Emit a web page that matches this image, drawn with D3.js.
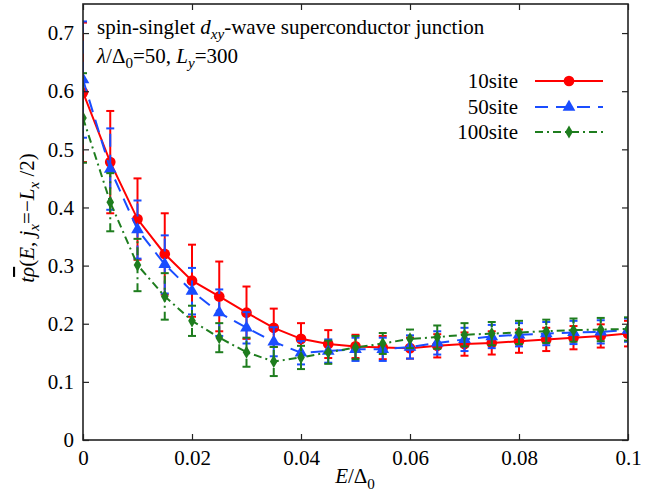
<!DOCTYPE html>
<html><head><meta charset="utf-8">
<script src="https://cdn.jsdelivr.net/npm/d3@7"></script>
<style>body{margin:0;background:#fff}
svg text, svg tspan { font-family: "Liberation Serif", "Times New Roman", Tinos, serif !important; }</style>
</head><body><svg id="c" width="645" height="502"></svg>
<script>
const energies = [0,0.005,0.01,0.015,0.02,0.025,0.03,0.035,0.04,0.045,0.05,0.055,0.06,0.065,0.07,0.075,0.08,0.085,0.09,0.095,0.1];
const site10 = [0.598,0.478,0.380,0.320,0.274,0.247,0.219,0.193,0.174,0.165,0.161,0.159,0.158,0.162,0.165,0.167,0.170,0.173,0.176,0.179,0.183];
const site10Err = [0.12,0.088,0.07,0.07,0.062,0.06,0.045,0.033,0.027,0.024,0.02,0.02,0.018,0.02,0.02,0.02,0.02,0.02,0.02,0.02,0.022];
const site50 = [0.620,0.466,0.362,0.302,0.256,0.219,0.193,0.169,0.150,0.153,0.156,0.156,0.160,0.167,0.173,0.178,0.181,0.183,0.185,0.186,0.189];
const site50Err = [0.1,0.07,0.05,0.05,0.04,0.04,0.027,0.025,0.02,0.02,0.02,0.02,0.02,0.02,0.02,0.02,0.02,0.02,0.02,0.02,0.02];
const site100 = [0.554,0.409,0.301,0.247,0.205,0.176,0.151,0.135,0.142,0.151,0.159,0.166,0.174,0.177,0.181,0.183,0.185,0.187,0.189,0.190,0.191];
const site100Err = [0.077,0.05,0.045,0.04,0.026,0.025,0.025,0.025,0.02,0.02,0.02,0.018,0.016,0.02,0.02,0.02,0.02,0.02,0.02,0.02,0.02];
const seriesNames = ["10site","50site","100site"];
const xTicks = [0,0.02,0.04,0.06,0.08,0.1];
const xTickLabels = ["0","0.02","0.04","0.06","0.08","0.1"];
const yTicks = [0,0.1,0.2,0.3,0.4,0.5,0.6,0.7];
const yTickLabels = ["0","0.1","0.2","0.3","0.4","0.5","0.6","0.7"];

const FONT = `"Liberation Serif", "Times New Roman", Tinos, serif`;
const FS = 21;
const L = 83, R = 628, T = 4, B = 440;
const svg = d3.select("#c").attr("font-family","Times New Roman");
const x = d3.scaleLinear().domain([0,0.1]).range([L,R]);
const y = d3.scaleLinear().domain([0,0.75]).range([B,T]);

const series = [
  {name:seriesNames[0], v:site10, e:site10Err, color:"#ff0000", dash:null, sym:d3.symbolCircle, size:90},
  {name:seriesNames[1], v:site50, e:site50Err, color:"#1a4dff", dash:"13,8", sym:d3.symbolTriangle, size:70},
  {name:seriesNames[2], v:site100, e:site100Err, color:"#1e7d1e", dash:"8,4,2,4", sym:d3.symbolDiamond, size:50}
];

const clip = svg.append("defs").append("clipPath").attr("id","pc");
clip.append("rect").attr("x",L).attr("y",T).attr("width",R-L).attr("height",B-T);

const plot = svg.append("g").attr("clip-path","url(#pc)");
series.forEach(s => {
  const g = plot.append("g");
  const line = d3.line().x((d,i)=>x(energies[i])).y(d=>y(d));
  g.append("path").datum(s.v).attr("d",line).attr("fill","none")
    .attr("stroke",s.color).attr("stroke-width",2).attr("stroke-dasharray",s.dash);
  const eb = g.selectAll(".eb").data(s.v).join("g");
  eb.append("line").attr("x1",(d,i)=>x(energies[i])).attr("x2",(d,i)=>x(energies[i]))
    .attr("y1",(d,i)=>y(d - s.e[i])).attr("y2",(d,i)=>y(d + s.e[i]))
    .attr("stroke",s.color).attr("stroke-width",2).attr("stroke-dasharray",s.dash);
  [-1,1].forEach(sg => {
    eb.append("line").attr("x1",(d,i)=>x(energies[i])-4).attr("x2",(d,i)=>x(energies[i])+4)
      .attr("y1",(d,i)=>y(d + sg*s.e[i])).attr("y2",(d,i)=>y(d + sg*s.e[i]))
      .attr("stroke",s.color).attr("stroke-width",2);
  });
  g.selectAll(".pt").data(s.v).join("path")
    .attr("d",d3.symbol().type(s.sym).size(s.size))
    .attr("transform",(d,i)=>`translate(${x(energies[i])},${y(d)})`)
    .attr("fill",s.color);
});

// frame & ticks
const axisCol = "#222";
svg.append("rect").attr("x",L).attr("y",T).attr("width",R-L).attr("height",B-T)
  .attr("fill","none").attr("stroke",axisCol).attr("stroke-width",1.6);
const xAxB = d3.axisBottom(x).tickValues(xTicks).tickSize(-6).tickFormat((d,i)=>xTickLabels[i]).tickPadding(10);
const xAxT = d3.axisTop(x).tickValues(xTicks).tickSize(-6).tickFormat("");
const yAxL = d3.axisLeft(y).tickValues(yTicks).tickSize(-6).tickFormat((d,i)=>yTickLabels[i]).tickPadding(9);
const yAxR = d3.axisRight(y).tickValues(yTicks).tickSize(-6).tickFormat("");
[[xAxB,`translate(0,${B})`],[xAxT,`translate(0,${T})`],[yAxL,`translate(${L},0)`],[yAxR,`translate(${R},0)`]].forEach(([ax,tr])=>{
  const g = svg.append("g").attr("transform",tr).call(ax);
  g.attr("font-family","Times New Roman").attr("font-size",FS);
  g.select(".domain").remove();
  g.selectAll(".tick line").attr("stroke",axisCol).attr("stroke-width",1.2);
  g.selectAll(".tick text").attr("fill","#000").attr("font-size",FS).style("font-family",FONT);
});

function T_(x0,y0){ return svg.append("text").attr("x",x0).attr("y",y0).attr("font-size",FS).attr("font-family","Times New Roman").style("font-family",FONT); }
function sub(t, txt, italic, dy){ const s=t.append("tspan").attr("font-size",FS*0.72).attr("dy",dy).text(txt); if(italic) s.style("font-style","italic"); }
// title
const t1 = T_(97,34);
t1.append("tspan").text("spin-singlet ");
t1.append("tspan").style("font-style","italic").text("d");
sub(t1,"xy",true,5);
t1.append("tspan").attr("dy",-5).text("-wave superconductor junction");
const t2 = T_(97,63);
t2.append("tspan").style("font-style","italic").text("λ");
t2.append("tspan").text("/Δ");
sub(t2,"0",false,5);
t2.append("tspan").attr("dy",-5).text("=50, ");
t2.append("tspan").style("font-style","italic").text("L");
sub(t2,"y",true,5);
t2.append("tspan").attr("dy",-5).text("=300");

// legend
const legY = [81,107,132];
series.forEach((s,i)=>{
  T_(518,legY[i]).attr("dy","0.33em").attr("text-anchor","end").text(s.name);
  svg.append("line").attr("x1",535).attr("x2",603).attr("y1",legY[i]).attr("y2",legY[i])
    .attr("stroke",s.color).attr("stroke-width",2).attr("stroke-dasharray",s.dash);
  svg.append("path").attr("d",d3.symbol().type(s.sym).size(s.size)).attr("fill",s.color)
    .attr("transform",`translate(569,${legY[i]})`);
});

// x label
const xl = T_(355,483).attr("text-anchor","middle");
xl.append("tspan").style("font-style","italic").text("E");
xl.append("tspan").text("/Δ");
sub(xl,"0",false,6);

// y label
const yl = svg.append("text").attr("transform","translate(34,218) rotate(-90)").attr("text-anchor","middle")
  .attr("font-size",FS).style("font-family",FONT);
yl.append("tspan").style("font-style","italic").text("t");
yl.append("tspan").style("font-style","italic").style("text-decoration","overline").text("ρ");
yl.append("tspan").text("(");
yl.append("tspan").style("font-style","italic").text("E");
yl.append("tspan").text(", ");
yl.append("tspan").style("font-style","italic").text("j");
sub(yl,"x",true,5);
yl.append("tspan").attr("dy",-5).text("=−");
yl.append("tspan").style("font-style","italic").text("L");
sub(yl,"x",true,5);
yl.append("tspan").attr("dy",-5).text(" /2)");
</script></body></html>
